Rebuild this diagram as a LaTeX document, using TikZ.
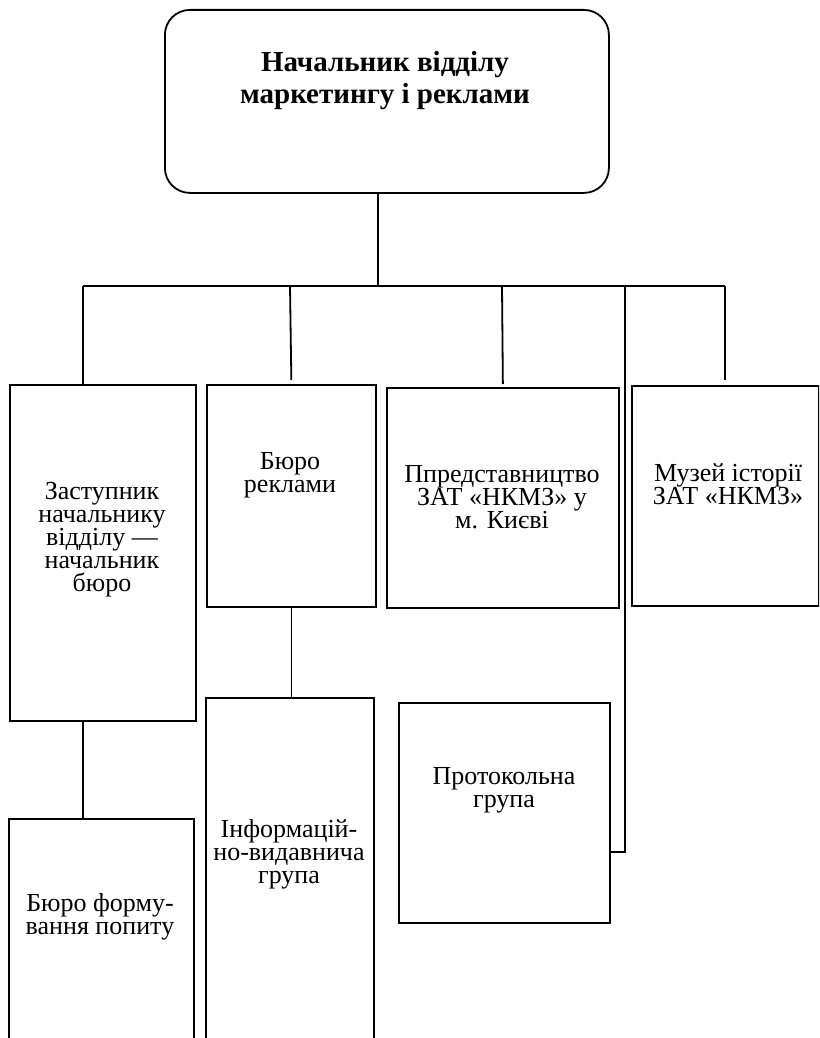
\documentclass[tikz,border=0pt]{standalone}
\usepackage{fontspec}
\setmainfont{Liberation Serif}
\begin{document}
\begin{tikzpicture}[x=1pt,y=-1pt,line width=1.8pt,
  box/.style={draw,rectangle,inner sep=0pt,anchor=north west},
  txt/.style={align=center,font=\fontsize{26}{23}\selectfont,inner sep=0pt},
  ttl/.style={align=center,font=\bfseries\fontsize{29}{32}\selectfont,inner sep=0pt},
  conn/.style={draw,line width=1.8pt}]
\useasboundingbox (0,0) rectangle (819,1038);
\clip (0,0) rectangle (819,1038);
% boxes
\node[box,rounded corners=25pt,minimum width=444pt,minimum height=183pt] (t) at (164,9) {};
\node[box,minimum width=186pt,minimum height=336pt] (z) at (9,384) {};
\node[box,minimum width=169pt,minimum height=222pt] (br) at (206,384) {};
\node[box,minimum width=232pt,minimum height=220pt] (pr) at (386,387) {};
\node[box,minimum width=187pt,minimum height=220pt] (mu) at (631,385) {};
\node[box,minimum width=211pt,minimum height=220pt] (pk) at (398,702) {};
\node[box,minimum width=185pt,minimum height=260pt] (bf) at (8,818) {};
\node[box,minimum width=168pt,minimum height=380pt] (inf) at (205,697) {};
% texts
\node[ttl] (tt) at (385,81) {Начальник відділу\\маркетингу і реклами};
\node[txt] (tz) at (102,540) {Заступник\\начальнику\\відділу —\\начальник\\бюро};
\node[txt] (tbr) at (290,475) {Бюро\\реклами};
\node[txt] (tpr) at (502,497) {Ппредставництво\\ЗАТ «НКМЗ» у\\м. Києві};
\node[txt] (tmu) at (728,484) {Музей історії\\ЗАТ «НКМЗ»};
\node[txt] (tpk) at (504,790) {Протокольна\\група};
\node[txt] (tbf) at (100,917) {Бюро форму-\\вання попиту};
\node[txt] (tinf) at (289,854) {Інформацій-\\но-видавнича\\група};
% connectors
\coordinate (j0) at (378,286);
\coordinate (b1) at (83,286);
\coordinate (b2) at (290,286);
\coordinate (b3) at (502,286);
\coordinate (bp) at (625,286);
\coordinate (b4) at (725,286);
\coordinate (pe) at (625,852);
\draw[conn] (t.south -| j0) -- (j0);
\draw[conn] (b1) -- (b4);
\draw[conn] (b1) -- (z.north -| b1);
\draw[conn,shorten >=4pt] (b2) -- (br.north);
\draw[conn,shorten >=3pt] (b3) -- (pr.north);
\draw[conn,shorten >=5pt] (b4) -- (mu.north -| b4);
\draw[conn] (bp) -- (pe) -- (pk.east |- pe);
\draw[conn] (z.south -| b1) -- (bf.north -| b1);
\draw[conn] (br.south) -- (inf.north -| br.south);
\end{tikzpicture}
\end{document}
